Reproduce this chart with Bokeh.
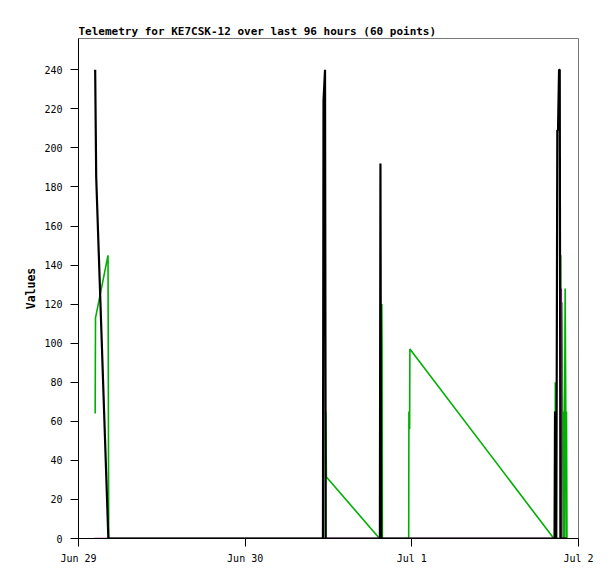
from bokeh.plotting import figure
from bokeh.models import Range1d, FixedTicker
from bokeh.embed import file_html
from bokeh.resources import INLINE

# hours since Jun 29 00:00
black_t = [2.40, 2.55, 4.30, 35.20, 35.28, 35.50, 35.60, 43.40, 43.48, 43.53, 43.60,
           68.55, 68.62, 68.68, 68.74, 68.80, 68.88, 68.95, 69.05, 69.20, 69.30, 69.40, 70.30]
black_v = [240, 185, 0, 0, 224, 240, 0, 0, 192, 97, 0,
           0, 65, 0, 65, 0, 105, 209, 209, 240, 240, 0, 0]

green_t = [2.40, 2.45, 4.25, 4.35, 35.55, 35.60, 35.70, 43.35, 43.62, 43.68, 43.72, 43.76,
           47.55, 47.58, 47.68, 47.72, 68.45, 68.62, 68.66, 68.72, 68.76,
           69.40, 69.45, 69.48, 69.60, 69.70, 69.80, 69.88, 69.95, 70.00, 70.08, 70.17, 70.22, 70.27, 70.34]
green_v = [64, 113, 145, 0, 0, 65, 31.5, 0, 0, 120, 97, 0,
           0, 65, 56, 97, 0, 0, 80, 65, 0,
           0, 145, 24, 121, 72, 0, 65, 0, 65, 128, 65, 0, 65, 0]

magenta_t = [2.30, 69.45, 69.52, 69.56, 70.30]
magenta_v = [0, 0, 128, 0, 0]

day_ticks = [0, 24, 48, 72]
day_labels = ["Jun 29", "Jun 30", "Jul 1", "Jul 2"]
y_ticks = [0, 20, 40, 60, 80, 100, 120, 140, 160, 180, 200, 220, 240]

MONO = "DejaVu Sans Mono"

p = figure(frame_width=500, frame_height=500,
           min_border_left=78, min_border_right=21, min_border_top=38, min_border_bottom=25,
           x_range=Range1d(0, 72), y_range=Range1d(0, 256),
           output_backend="svg", toolbar_location=None,
           title="Telemetry for KE7CSK-12 over last 96 hours (60 points)")

p.title.text_font = MONO
p.title.text_font_size = "11px"
p.title.text_font_style = "bold"
p.title.text_color = "black"
p.title.align = "left"
p.title.offset = 0
p.title.standoff = 2

p.xgrid.visible = False
p.ygrid.visible = False
p.outline_line_color = "#777777"
p.outline_line_width = 1
p.background_fill_color = "white"
p.border_fill_color = "white"

p.line(green_t, green_v, line_color="#00b000", line_width=1.6)
p.line(magenta_t, magenta_v, line_color="#a000a0", line_width=1.6)
p.line(black_t, black_v, line_color="black", line_width=2.2)

for ax in (p.xaxis[0], p.yaxis[0]):
    ax.axis_line_color = "black"
    ax.major_tick_line_color = "black"
    ax.major_tick_out = 8
    ax.major_tick_in = 0
    ax.minor_tick_line_color = None
    ax.major_label_text_font = MONO
    ax.major_label_text_font_size = "10px"
    ax.major_label_text_color = "black"

p.xaxis.ticker = FixedTicker(ticks=day_ticks)
p.xaxis.major_label_overrides = {t: l for t, l in zip(day_ticks, day_labels)}
p.xaxis.major_label_standoff = 6

p.yaxis.ticker = FixedTicker(ticks=y_ticks)
p.yaxis.major_label_standoff = 8
p.yaxis.axis_label = "Values"
p.yaxis.axis_label_text_font = MONO
p.yaxis.axis_label_text_font_size = "11.5px"
p.yaxis.axis_label_text_font_style = "bold"
p.yaxis.axis_label_text_color = "black"
p.yaxis.axis_label_standoff = 3

open("out.html", "w").write(file_html(p, INLINE))
